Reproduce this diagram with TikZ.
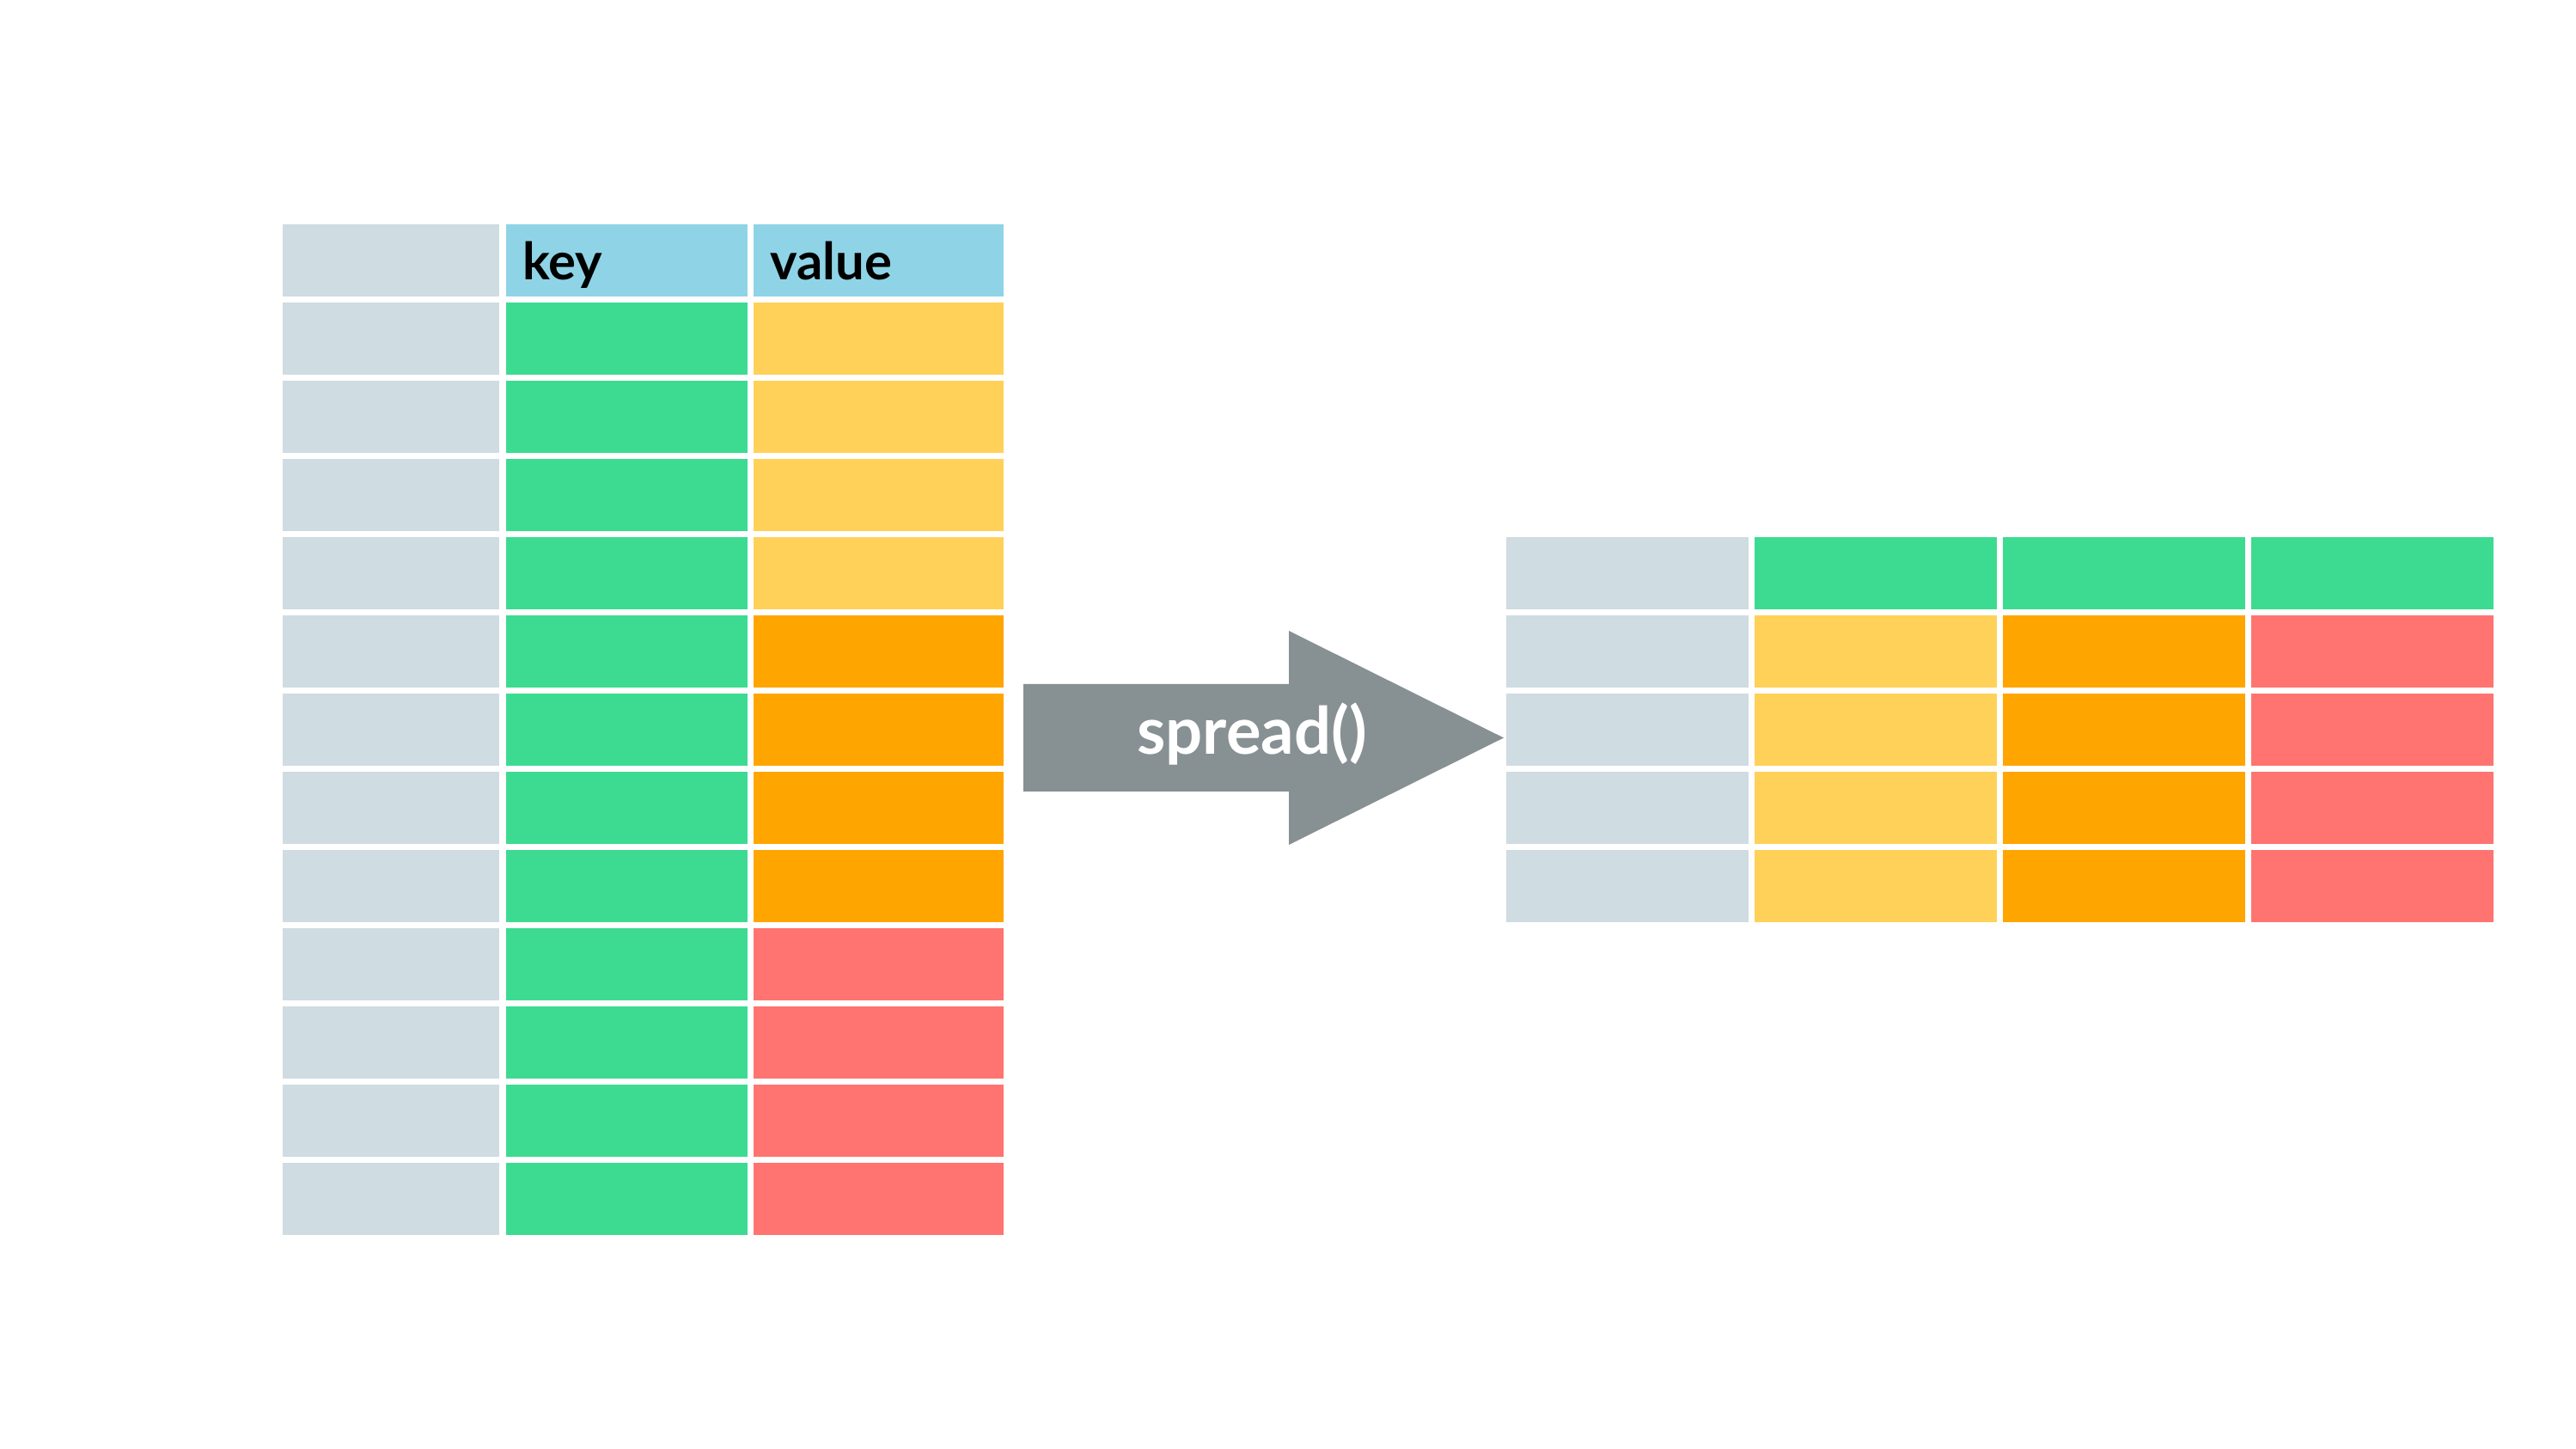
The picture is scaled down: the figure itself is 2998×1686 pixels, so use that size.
\documentclass[tikz,border=0pt]{standalone}
\usepackage{fontspec}
\newfontfamily\lato{Lato}
\definecolor{cGrey}{RGB}{207,220,225}
\definecolor{cHdr}{RGB}{143,212,230}
\definecolor{cGrn}{RGB}{61,219,145}
\definecolor{cYel}{RGB}{255,209,88}
\definecolor{cOrg}{RGB}{255,165,0}
\definecolor{cRed}{RGB}{255,116,112}
\definecolor{cArrow}{RGB}{135,144,147}
\tikzset{
  cell/.style={rectangle, inner sep=0pt, outer sep=0pt, anchor=north west, minimum height=0.84cm},
  hdrtext/.style={anchor=base west, inner sep=0pt, font=\lato\bfseries\fontsize{17pt}{20pt}\selectfont, text=black},
  arrowtext/.style={anchor=base, inner sep=0pt, font=\lato\bfseries\fontsize{21.6pt}{26pt}\selectfont, text=white}
}
\begin{document}
\begin{tikzpicture}[x=0.01cm, y=-0.01cm]
\useasboundingbox[fill=white] (0,0) rectangle (2998,1686);
% left table
\foreach \r in {0,...,12} {
  \pgfmathsetmacro\yy{261+91*\r}
  \ifnum\r=0 \def\kc{cHdr}\def\vc{cHdr}\else
    \def\kc{cGrn}%
    \ifnum\r<5 \def\vc{cYel}\else
      \ifnum\r<9 \def\vc{cOrg}\else \def\vc{cRed}\fi
    \fi
  \fi
  \node[cell, fill=cGrey, minimum width=2.52cm] (L\r-1) at (329,\yy) {};
  \node[cell, fill=\kc, minimum width=2.81cm] (L\r-2) at (589,\yy) {};
  \node[cell, fill=\vc, minimum width=2.91cm] (L\r-3) at (877,\yy) {};
}
\node[hdrtext] (keytxt) at (607.5,326) {key};
\node[hdrtext] (valtxt) at (895.5,326) {value};
% arrow
\path[fill=cArrow] (1191,796) -- (1500,796) -- (1500,734) -- (1750,858.5) -- (1500,983) -- (1500,921) -- (1191,921) -- cycle;
\node[arrowtext] (spread) at (1457,878) {spread()};
% right table
\foreach \r in {0,...,4} {
  \pgfmathsetmacro\yy{625+91*\r}
  \ifnum\r=0 \def\ca{cGrn}\def\cb{cGrn}\def\cc{cGrn}\else
    \def\ca{cYel}\def\cb{cOrg}\def\cc{cRed}\fi
  \node[cell, fill=cGrey, minimum width=2.82cm] (R\r-1) at (1753,\yy) {};
  \node[cell, fill=\ca, minimum width=2.82cm] (R\r-2) at (2042,\yy) {};
  \node[cell, fill=\cb, minimum width=2.82cm] (R\r-3) at (2331,\yy) {};
  \node[cell, fill=\cc, minimum width=2.82cm] (R\r-4) at (2620,\yy) {};
}
\end{tikzpicture}
\end{document}
